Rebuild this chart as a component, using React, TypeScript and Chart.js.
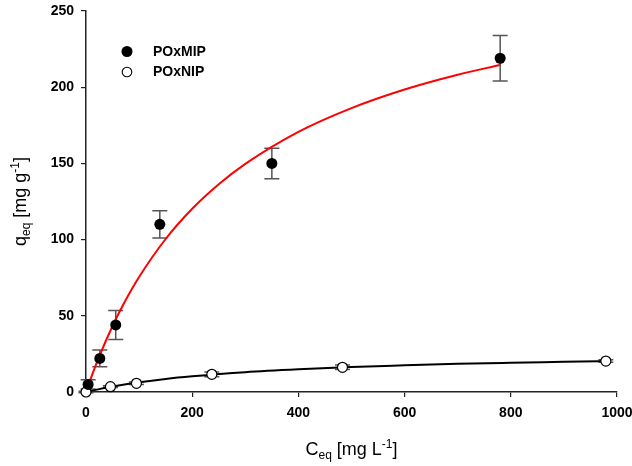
import React, { useEffect, useRef } from 'react';
import { Chart, registerables } from 'chart.js';

Chart.register(...registerables);

// Measured adsorption data (C_eq in mg/L, q_eq in mg/g, error = ±SD)
const mipC = [4, 26, 56, 139, 350, 780];
const mipQ = [5, 22, 44, 110, 150, 219];
const mipErr = [3, 5.5, 9.5, 9, 10, 15];

const nipC = [0, 46, 95, 237, 483, 979];
const nipQ = [0, 3.5, 5.7, 11.6, 16.2, 20.3];
const nipErr = [0.5, 0.6, 0.8, 1.6, 1.5, 0.8];

// Fitted isotherm curves
const mipFitC = [0, 10, 25, 50, 75, 100, 150, 200, 250, 300, 400, 500, 600, 700, 780];
const mipFitQ = [0, 9.8, 23.4, 43.3, 60.5, 75.5, 100.4, 120.2, 136.3, 149.7, 170.7, 186.3, 198.5, 208.2, 214.6];

const nipFitC = [0, 25, 50, 100, 150, 200, 300, 400, 500, 600, 700, 800, 900, 980];
const nipFitQ = [0, 1.9, 3.6, 6.4, 8.6, 10.3, 13.0, 14.9, 16.4, 17.5, 18.5, 19.2, 19.8, 20.3];

const xTicks = [0, 200, 400, 600, 800, 1000];
const yTicks = [0, 50, 100, 150, 200, 250];

const seriesNames = ['POxMIP', 'POxNIP'];

const FONT = '"Liberation Sans", Arial, sans-serif';

const toXY = (xs: number[], ys: number[]) => xs.map((x, i) => ({ x, y: ys[i] }));

// Draws vertical error bars behind the markers
const errorBarPlugin = {
  id: 'errorBars',
  beforeDatasetsDraw(chart: any) {
    const { ctx, scales } = chart;
    const xs = scales.x;
    const ys = scales.y;
    const sets = [
      { c: mipC, q: mipQ, e: mipErr },
      { c: nipC, q: nipQ, e: nipErr },
    ];
    ctx.save();
    ctx.strokeStyle = '#555';
    ctx.lineWidth = 1.5;
    const cap = 7.5;
    sets.forEach((s) => {
      s.c.forEach((c, i) => {
        const px = xs.getPixelForValue(c);
        const top = ys.getPixelForValue(s.q[i] + s.e[i]);
        const bot = ys.getPixelForValue(s.q[i] - s.e[i]);
        ctx.beginPath();
        ctx.moveTo(px, top);
        ctx.lineTo(px, bot);
        ctx.moveTo(px - cap, top);
        ctx.lineTo(px + cap, top);
        ctx.moveTo(px - cap, bot);
        ctx.lineTo(px + cap, bot);
        ctx.stroke();
      });
    });
    ctx.restore();
  },
};

// Draws a run of text pieces with sub/superscript offsets, centred on centerX
function drawRich(ctx: CanvasRenderingContext2D, parts: { t: string; size: number; dy: number }[], centerX: number, baseY: number) {
  let total = 0;
  parts.forEach((p) => {
    ctx.font = `${p.size}px ${FONT}`;
    total += ctx.measureText(p.t).width;
  });
  let x = centerX - total / 2;
  parts.forEach((p) => {
    ctx.font = `${p.size}px ${FONT}`;
    ctx.fillText(p.t, x, baseY + p.dy);
    x += ctx.measureText(p.t).width;
  });
}

// Axis titles with subscripts/superscripts and the marker legend
const annotationPlugin = {
  id: 'annotations',
  afterDraw(chart: any) {
    const { ctx, chartArea } = chart;
    ctx.save();
    ctx.fillStyle = '#000';
    ctx.textAlign = 'left';
    ctx.textBaseline = 'alphabetic';

    const cx = (chartArea.left + chartArea.right) / 2;
    drawRich(
      ctx,
      [
        { t: 'C', size: 18, dy: 0 },
        { t: 'eq', size: 12, dy: 4 },
        { t: ' [mg L', size: 18, dy: 0 },
        { t: '-1', size: 12, dy: -7 },
        { t: ']', size: 18, dy: 0 },
      ],
      cx,
      455
    );

    const cy = (chartArea.top + chartArea.bottom) / 2;
    ctx.save();
    ctx.translate(26, cy);
    ctx.rotate(-Math.PI / 2);
    drawRich(
      ctx,
      [
        { t: 'q', size: 18, dy: 0 },
        { t: 'eq', size: 12, dy: 4 },
        { t: ' [mg g', size: 18, dy: 0 },
        { t: '-1', size: 12, dy: -7 },
        { t: ']', size: 18, dy: 0 },
      ],
      0,
      0
    );
    ctx.restore();

    // Legend
    const lx = 127;
    const rows = [51.5, 72];
    ctx.font = `bold 14px ${FONT}`;
    ctx.textBaseline = 'middle';
    rows.forEach((ry, i) => {
      ctx.beginPath();
      ctx.arc(lx, ry, i === 0 ? 5.5 : 4.8, 0, Math.PI * 2);
      if (i === 0) {
        ctx.fillStyle = '#000';
        ctx.fill();
      } else {
        ctx.fillStyle = '#fff';
        ctx.fill();
        ctx.strokeStyle = '#000';
        ctx.lineWidth = 1.1;
        ctx.stroke();
      }
      ctx.fillStyle = '#000';
      ctx.fillText(seriesNames[i], 153, ry + 0.5);
    });
    ctx.restore();
  },
};

export default function App() {
  const canvasRef = useRef<HTMLCanvasElement | null>(null);

  useEffect(() => {
    if (!canvasRef.current) return;
    const tickFont = { family: FONT, size: 14, weight: 'bold' as const };
    const chart = new Chart(canvasRef.current, {
      type: 'scatter',
      data: {
        datasets: [
          {
            label: seriesNames[0],
            data: toXY(mipC, mipQ),
            pointRadius: 5.5,
            pointBackgroundColor: '#000',
            pointBorderColor: '#000',
            pointBorderWidth: 0,
            showLine: false,
            order: 0,
            clip: false,
          } as any,
          {
            label: seriesNames[1],
            data: toXY(nipC, nipQ),
            pointRadius: 5,
            pointBackgroundColor: '#fff',
            pointBorderColor: '#000',
            pointBorderWidth: 1.2,
            showLine: false,
            order: 0,
            clip: false,
          } as any,
          {
            label: 'MIP fit',
            data: toXY(mipFitC, mipFitQ),
            showLine: true,
            borderColor: '#ff0000',
            borderWidth: 2,
            pointRadius: 0,
            cubicInterpolationMode: 'monotone',
            order: 1,
            clip: false,
          } as any,
          {
            label: 'NIP fit',
            data: toXY(nipFitC, nipFitQ),
            showLine: true,
            borderColor: '#000',
            borderWidth: 2,
            pointRadius: 0,
            cubicInterpolationMode: 'monotone',
            order: 1,
            clip: false,
          } as any,
        ],
      },
      options: {
        responsive: false,
        animation: false,
        events: [],
        layout: { padding: { left: 0, top: 11, right: 15, bottom: 0 } },
        plugins: {
          legend: { display: false },
          tooltip: { enabled: false },
          title: { display: false },
        },
        scales: {
          x: {
            type: 'linear',
            min: 0,
            max: 1000,
            afterBuildTicks: (s: any) => {
              s.ticks = xTicks.map((v) => ({ value: v }));
            },
            afterFit: (s: any) => {
              s.height = 74;
              s.paddingLeft = 0;
              s.paddingRight = 0;
            },
            ticks: {
              color: '#000',
              font: tickFont,
              padding: 8,
              maxRotation: 0,
              callback: (v: any) => String(v),
            },
            grid: {
              display: true,
              drawOnChartArea: false,
              drawTicks: true,
              tickLength: 5,
              color: '#222',
              lineWidth: 1.2,
            },
            border: { display: true, color: '#222', width: 1.5 },
            title: { display: false },
          },
          y: {
            type: 'linear',
            min: 0,
            max: 250,
            afterBuildTicks: (s: any) => {
              s.ticks = yTicks.map((v) => ({ value: v }));
            },
            afterFit: (s: any) => {
              s.width = 86;
              s.paddingTop = 0;
              s.paddingBottom = 0;
            },
            ticks: {
              color: '#000',
              font: tickFont,
              padding: 7,
              callback: (v: any) => String(v),
            },
            grid: {
              display: true,
              drawOnChartArea: false,
              drawTicks: true,
              tickLength: 5,
              color: '#222',
              lineWidth: 1.2,
            },
            border: { display: true, color: '#222', width: 1.5 },
            title: { display: false },
          },
        },
      },
      plugins: [errorBarPlugin, annotationPlugin],
    });
    return () => chart.destroy();
  }, []);

  return (
    <div style={{ position: 'fixed', left: 0, top: 0, width: 632, height: 466, background: '#fff' }}>
      <canvas ref={canvasRef} width={632} height={466} style={{ display: 'block' }} />
    </div>
  );
}
